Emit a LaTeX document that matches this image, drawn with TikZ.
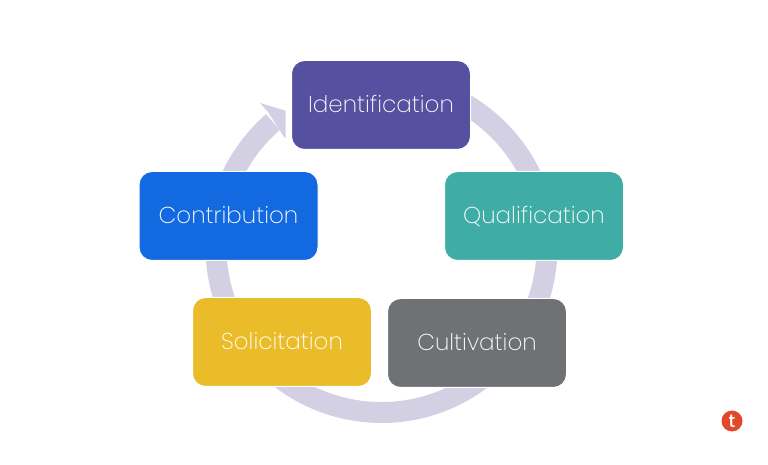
\documentclass[tikz,border=0pt]{standalone}
\usepackage{fontspec}
\setmainfont{Poppins ExtraLight}
\newfontfamily\logofont{Poppins Medium}
\definecolor{ringc}{HTML}{D2D0E2}
\definecolor{cpurple}{HTML}{55509F}
\definecolor{cblue}{HTML}{136AE0}
\definecolor{cteal}{HTML}{3FADA5}
\definecolor{cgray}{HTML}{6F7275}
\definecolor{cyellow}{HTML}{EBBC2A}
\definecolor{cred}{HTML}{E04A2B}
\tikzset{
  stagebox/.style={rectangle,rounded corners=13pt,draw=white,line width=1pt,text=white,
    minimum width=179pt,minimum height=89pt,inner sep=0pt,text height=19pt,text depth=3pt,
    font=\fontsize{23}{26}\selectfont},
}
\begin{document}
\begin{tikzpicture}[x=1pt,y=1pt]
\useasboundingbox (0,0) rectangle (768,465);
% ring: centre (381.5,218), outer radius 176, inner radius 155
\fill[ringc] (381.5,218) ++(131:176)
  arc[start angle=131,end angle=430,radius=176pt]
  -- ++(70:-21)
  arc[start angle=430,end angle=131,radius=155pt] -- cycle;
% arrow head
\fill[ringc] (260,362) -- (285.7,354.3) -- (285.7,327.2) -- (284.3,327.7) -- (268,353) -- cycle;
\node[stagebox,fill=cpurple] (identification) at (381,360) {Identification};
\node[stagebox,fill=cteal] (qualification) at (534,249) {Qualification};
\node[stagebox,fill=cblue] (contribution) at (228.5,249) {Contribution};
\node[stagebox,fill=cyellow] (solicitation) at (282,123) {Solicitation};
\node[stagebox,fill=cgray] (cultivation) at (477,122) {Cultivation};
\node[circle,fill=cred,minimum size=21pt,inner sep=0pt,text=white,font=\logofont\fontsize{18}{18}\selectfont] (logo) at (732,44) {t};
\end{tikzpicture}
\end{document}
